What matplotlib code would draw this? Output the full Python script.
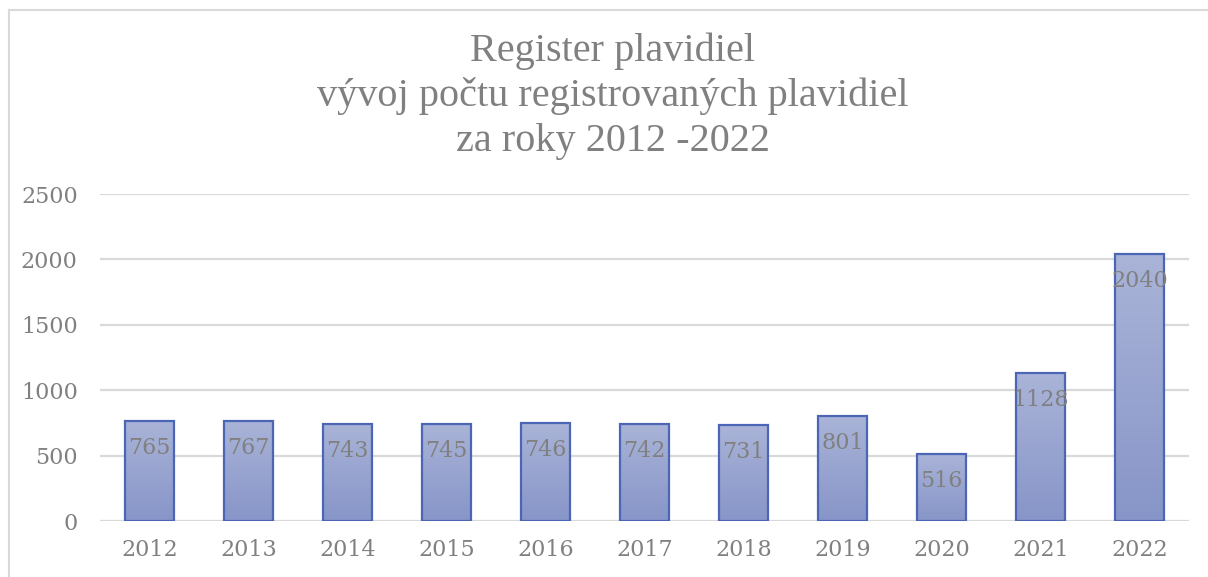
import numpy as np
import matplotlib
matplotlib.use('Agg')
import matplotlib.pyplot as plt
from matplotlib.lines import Line2D

# data
years = ['2012', '2013', '2014', '2015', '2016', '2017', '2018', '2019', '2020', '2021', '2022']
vessels = [765, 767, 743, 745, 746, 742, 731, 801, 516, 1128, 2040]
title = 'Register plavidiel\nvývoj počtu registrovaných plavidiel\nza roky 2012 -2022'

text_col = '#808080'
grid_col = '#d9d9d9'
edge_col = '#4a66b4'

fig = plt.figure(figsize=(12.08, 5.77), dpi=100)
ax = fig.add_axes([100 / 1208, 1 - 521 / 577, 1089 / 1208, 327 / 577])

x = np.arange(len(years))
bars = ax.bar(x, vessels, width=0.5, color='none', edgecolor=edge_col, linewidth=1.6, zorder=3)

# vertical gradient fill, light at the top, darker at the bottom
grad = np.linspace(0, 1, 256).reshape(-1, 1)
cmap = matplotlib.colors.LinearSegmentedColormap.from_list('g', ['#8795c8', '#aab4d8'])
for b in bars:
    bx, bw, bh = b.get_x(), b.get_width(), b.get_height()
    ax.imshow(grad, extent=(bx, bx + bw, 0, bh), origin='lower', cmap=cmap,
              aspect='auto', zorder=2, interpolation='bicubic')

for xi, v in zip(x, vessels):
    ax.annotate(str(v), (xi, v), xytext=(0, -27), textcoords='offset pixels',
                ha='center', va='center', fontsize=16, color=text_col, family='DejaVu Serif', zorder=4)

ax.set_xlim(-0.5, len(years) - 0.5)
ax.set_ylim(0, 2500)
ax.set_yticks([0, 500, 1000, 1500, 2000, 2500])
ax.set_xticks(x)
ax.set_xticklabels(years)
ax.yaxis.grid(True, color=grid_col, linewidth=1.6, zorder=0)
ax.set_axisbelow(True)
for s in ax.spines.values():
    s.set_visible(False)
ax.tick_params(length=0, labelsize=16, labelcolor=text_col, pad=16)
ax.tick_params(axis='x', pad=13)
for lbl in ax.get_xticklabels() + ax.get_yticklabels():
    lbl.set_family('DejaVu Serif')

fig.text(613 / 1208, 1 - 96 / 577, title, ha='center', va='center', fontsize=29,
         color=text_col, family='Liberation Serif', linespacing=1.27)

# chart frame lines (top and left)
fig.add_artist(Line2D([9 / 1208, 1], [1 - 9.5 / 577, 1 - 9.5 / 577], color=grid_col, lw=1.5))
fig.add_artist(Line2D([9 / 1208, 9 / 1208], [0, 1 - 9.5 / 577], color=grid_col, lw=1.5))

fig.savefig('out.png', dpi=100)
